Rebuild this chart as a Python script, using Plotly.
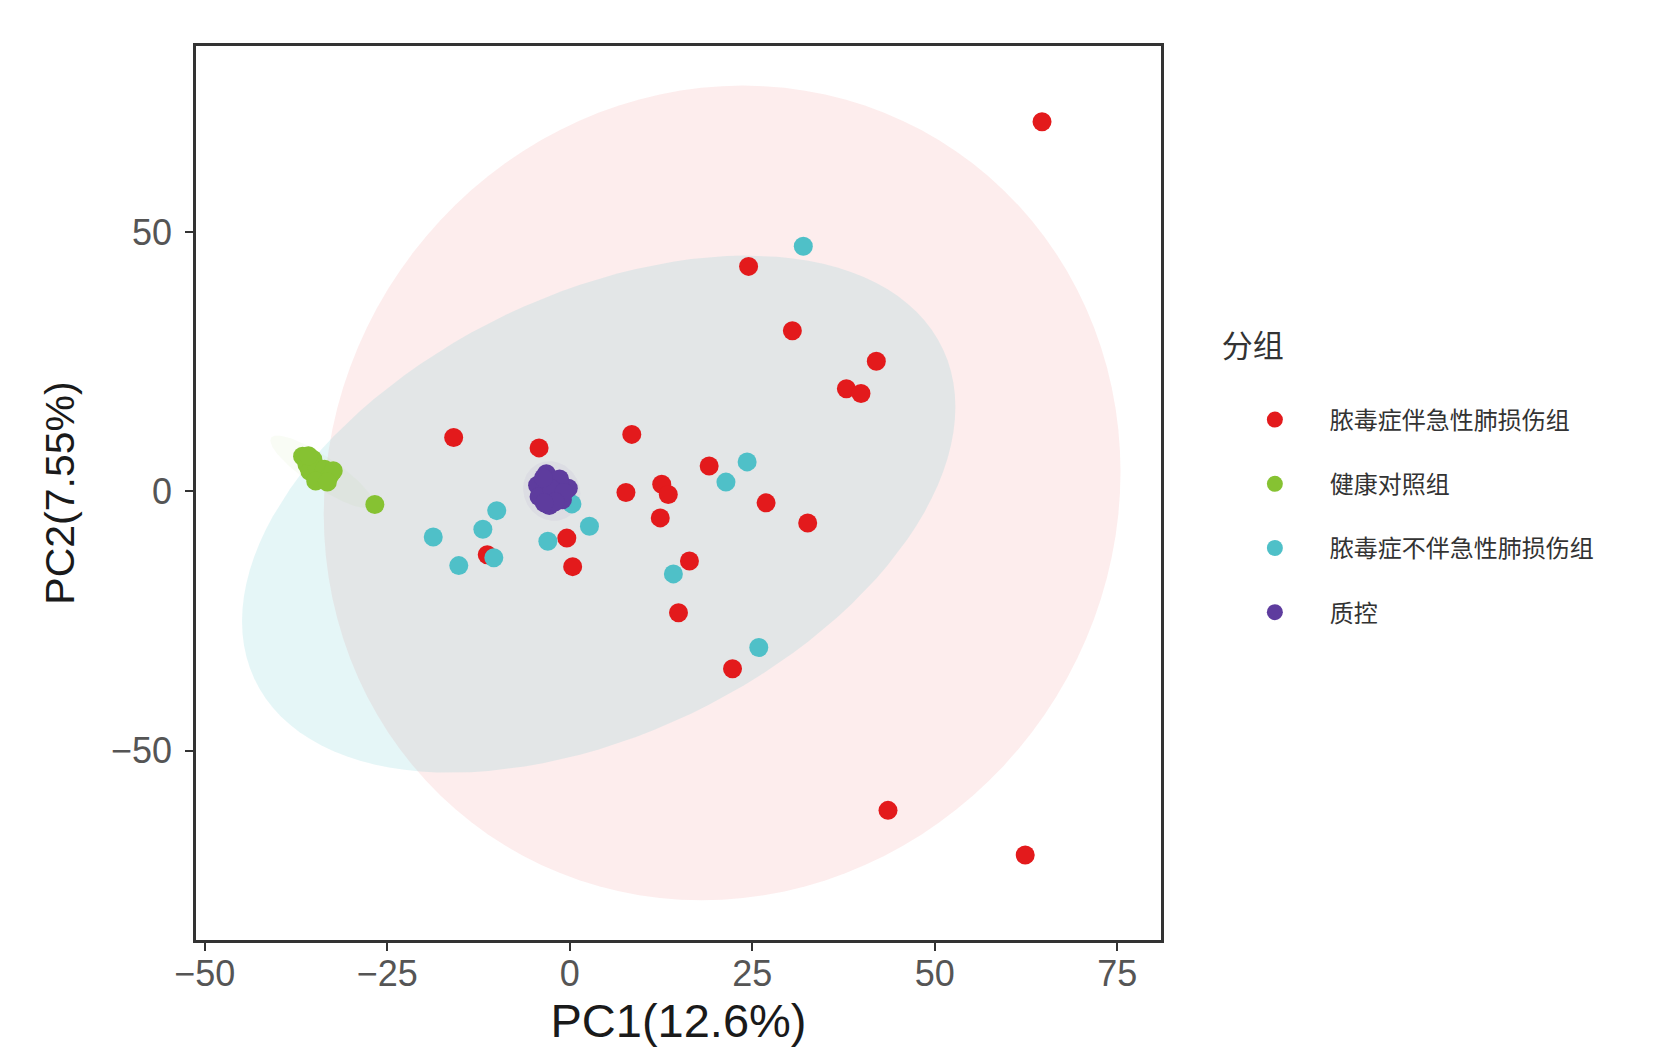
"""PCA score plot: PC1 vs PC2 with 95% normal ellipses per group."""

import numpy as np
import plotly.graph_objects as go

# group names / colours
groups = ["脓毒症伴急性肺损伤组", "健康对照组", "脓毒症不伴急性肺损伤组", "质控"]
colors = ["#E31A1C", "#86C232", "#4FC0C8", "#5E3C9E"]
fill_alpha = [0.08, 0.05, 0.15, 0.05]

# PCA scores
ali_x = [64.7, 24.5, 30.5, 42.0, 37.9, 39.9, -15.9, -4.2, 8.5, 19.1, 12.6, 13.5,
         7.7, 26.9, 12.4, 32.6, -0.4, 0.4, -11.3, 16.4, 14.9, 22.3, 43.6, 62.4]
ali_y = [71.3, 43.4, 31.0, 25.1, 19.8, 18.9, 10.4, 8.4, 11.0, 4.9, 1.4, -0.6,
         -0.2, -2.2, -5.1, -6.1, -9.0, -14.5, -12.2, -13.4, -23.4, -34.2, -61.5, -70.1]

healthy_x = [-36.6, -36.0, -35.2, -35.6, -34.6, -34.0, -33.6, -32.8, -32.4,
             -34.8, -33.2, -35.8, -26.7]
healthy_y = [6.8, 5.2, 6.2, 3.9, 4.6, 2.6, 4.3, 3.2, 4.0, 2.0, 1.8, 6.9, -2.5]

nonali_x = [32.0, 24.3, 21.4, 0.3, -10.0, -11.9, 2.7, -3.0, -18.7, -15.2, -10.4, 14.2, 25.9]
nonali_y = [47.3, 5.7, 1.8, -2.4, -3.7, -7.3, -6.7, -9.6, -8.8, -14.3, -12.8, -15.9, -30.1]

qc_x = [-3.2, -4.4, -4.2, -2.8, -1.0, -0.2, -1.4, -2.5, -3.6, -0.8, -2.0, -3.5]
qc_y = [3.4, 1.2, -1.0, -2.7, -1.6, 0.6, 2.4, 0.5, 2.6, -0.2, -2.0, -2.2]

xs = [ali_x, healthy_x, nonali_x, qc_x]
ys = [ali_y, healthy_y, nonali_y, qc_y]

x_ticks = [-50, -25, 0, 25, 50, 75]
y_ticks = [-50, 0, 50]


def norm_ellipse(x, y, level=0.95, segments=120):
    """Same maths as ggplot2 stat_ellipse(type='norm')."""
    pts = np.column_stack([x, y])
    n = len(pts)
    center = pts.mean(axis=0)
    cov = np.cov(pts, rowvar=False)
    # F(2, n-1) quantile has a closed form
    dfd = n - 1
    fq = dfd / 2 * ((1 - level) ** (-2 / dfd) - 1)
    radius = np.sqrt(2 * fq)
    t = np.linspace(0, 2 * np.pi, segments + 1)
    circle = np.column_stack([np.cos(t), np.sin(t)])
    chol = np.linalg.cholesky(cov).T
    ell = center + radius * circle @ chol
    return ell[:, 0], ell[:, 1]


def rgba(hex_color, a):
    h = hex_color.lstrip("#")
    r, g, b = (int(h[i:i + 2], 16) for i in (0, 2, 4))
    return f"rgba({r},{g},{b},{a})"


fig = go.Figure()

# ellipses first so the points sit on top
for name, c, a, x, y in zip(groups, colors, fill_alpha, xs, ys):
    ex, ey = norm_ellipse(x, y)
    fig.add_trace(go.Scatter(
        x=ex, y=ey, mode="lines", fill="toself",
        fillcolor=rgba(c, a), line=dict(width=0),
        hoverinfo="skip", showlegend=False
    ))

for i, (name, c, x, y) in enumerate(zip(groups, colors, xs, ys)):
    fig.add_trace(go.Scatter(
        x=x, y=y, mode="markers", name=name, legendgroup=f"g{i}",
        marker=dict(color=c, size=19, line=dict(width=0))
    ))

axis_common = dict(
    showgrid=False, zeroline=False, showline=True, mirror=True,
    linecolor="#333333", linewidth=2.5,
    ticks="outside", ticklen=8, tickwidth=2, tickcolor="#333333",
    tickfont=dict(family="Liberation Sans", size=36, color="#555555"),
)

fig.update_layout(
    width=1656, height=1060,
    margin=dict(l=188, r=503, t=38, b=128),
    plot_bgcolor="white", paper_bgcolor="white",
    xaxis=dict(
        range=[-51.2, 81.0], tickvals=x_ticks,
        ticktext=[str(v).replace("-", "−") for v in x_ticks],
        ticklabelstandoff=-8,
        title=dict(text="PC1(12.6%)", standoff=9,
                   font=dict(family="Liberation Sans", size=47, color="#1a1a1a")),
        **axis_common
    ),
    yaxis=dict(
        range=[-86.5, 85.9], tickvals=y_ticks,
        ticktext=[str(v).replace("-", "−") for v in y_ticks],
        ticklabelstandoff=6,
        title=dict(text="PC2(7.55%)", standoff=24,
                   font=dict(family="Liberation Sans", size=41, color="#1a1a1a")),
        **axis_common
    ),
    legend=dict(
        x=1.061, y=0.697, xanchor="left", yanchor="top",
        title=dict(text="分组<br> ", side="top",
                   font=dict(family="Noto Sans CJK SC", size=31, color="#333333")),
        font=dict(family="Noto Sans CJK SC", size=24, color="#333333"),
        itemsizing="trace", itemwidth=100, tracegroupgap=30,
        bgcolor="rgba(0,0,0,0)"
    ),
)

fig.write_html("out.html")
